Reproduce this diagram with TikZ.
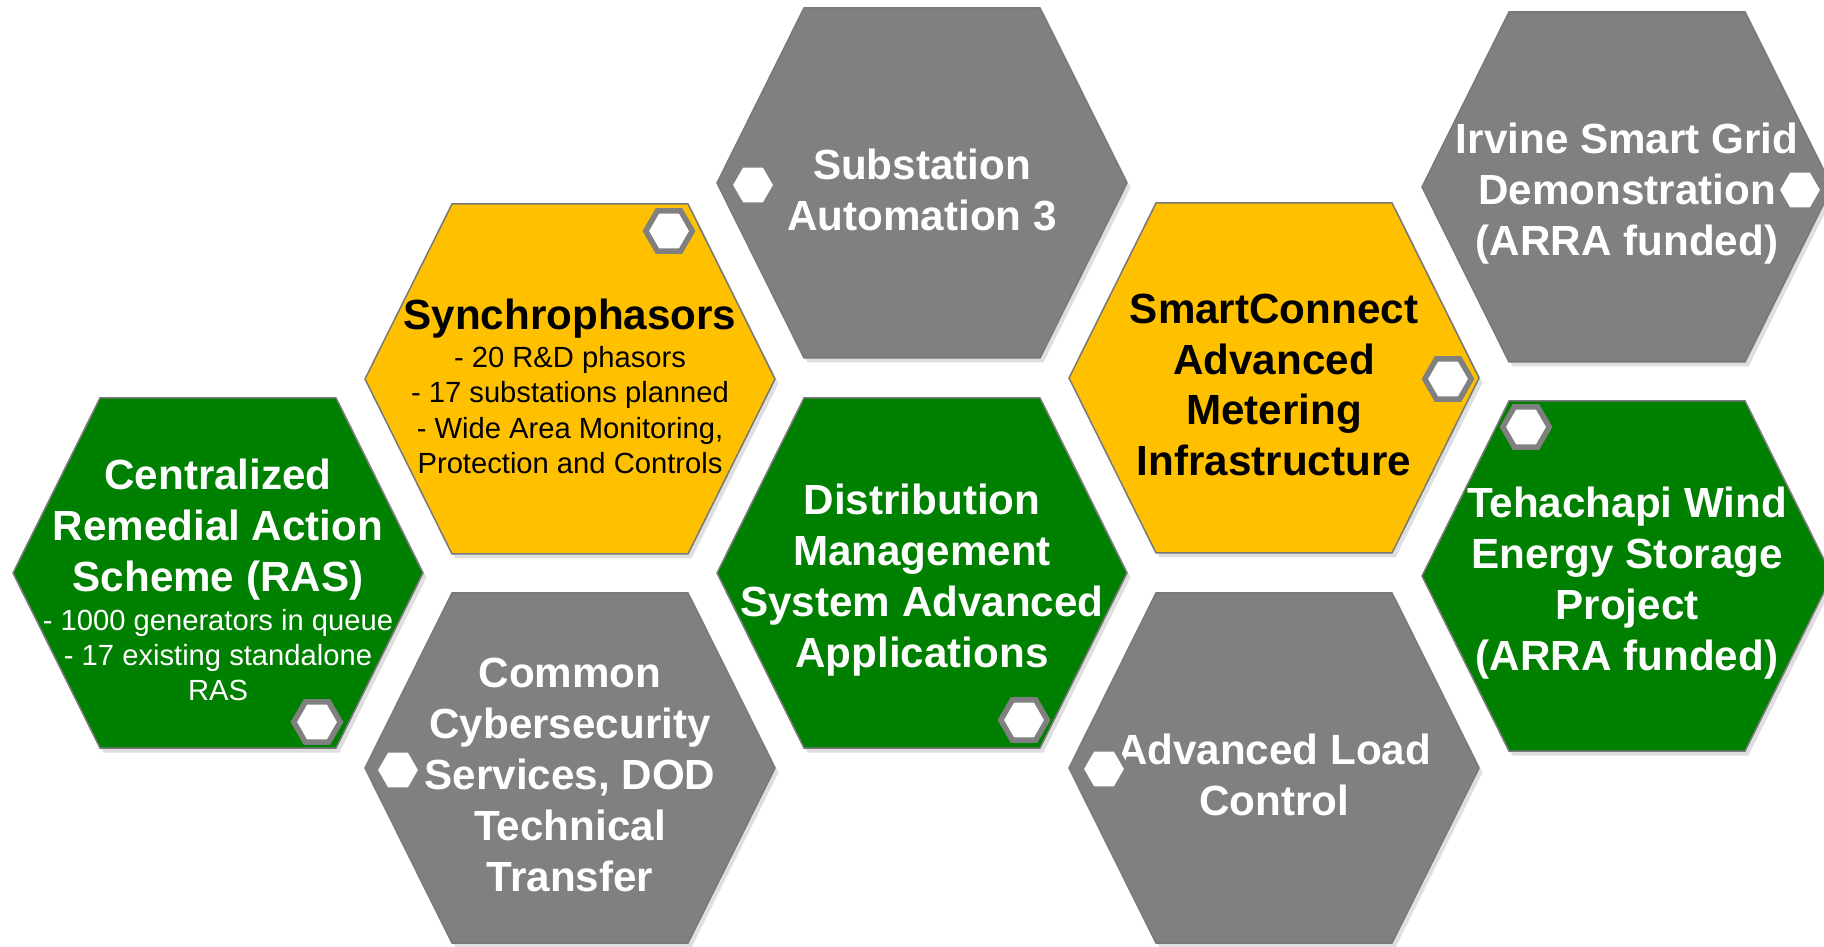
\documentclass[tikz,border=0pt]{standalone}
\usepackage{fontspec}
\setmainfont{Liberation Sans}
\usetikzlibrary{shapes.geometric,shadows,backgrounds}

\definecolor{cellgreen}{RGB}{0,128,0}
\definecolor{cellyellow}{RGB}{255,192,0}
\definecolor{cellgray}{RGB}{128,128,128}
\definecolor{rimgray}{RGB}{120,120,120}

\newcommand{\headfont}{\bfseries\fontsize{12}{14.5}\selectfont}
\newcommand{\notefont}{\mdseries\fontsize{8.3}{10}\selectfont}

\tikzset{
  % text sits a little below the middle of its hexagon
  hexagon path/.style={insert path={++(-205,-7) -- ++(87,-175) -- ++(236,0) -- ++(87,175) -- ++(-87,175) -- ++(-236,0) -- cycle}},
  cell/.style={draw=rimgray, line width=0.15mm,
    drop shadow={shadow xshift=0.35mm, shadow yshift=-0.45mm, opacity=0.25}},
  greencell/.style={cell, fill=cellgreen},
  yellowcell/.style={cell, fill=cellyellow},
  graycell/.style={cell, fill=cellgray},
  lighttext/.style={text=white, align=center, font=\headfont},
  darktext/.style={text=black, align=center, font=\headfont},
  badge/.style={regular polygon, regular polygon sides=6, minimum size=4.65mm,
    inner sep=0pt, fill=white, draw=cellgray, line width=0.55mm}
}

\begin{document}
\begin{tikzpicture}[x=0.1mm, y=-0.1mm]
\useasboundingbox (0,0) rectangle (1824,947);

% cell texts
\node[lighttext] (ras) at (218,580) {Centralized\\Remedial Action\\Scheme (RAS)\\[-3.5pt]
  \notefont - 1000 generators in queue\\[-4.5pt]
  \notefont - 17 existing standalone\\[-4.5pt]
  \notefont RAS};
\node[darktext] (synch) at (570,386) {Synchrophasors\\[-3.5pt]
  \notefont - 20 R\&D phasors\\[-4.5pt]
  \notefont - 17 substations planned\\[-4.5pt]
  \notefont - Wide Area Monitoring,\\[-4.5pt]
  \notefont Protection and Controls};
\node[lighttext] (cyber) at (570,775) {Common\\Cybersecurity\\Services, DOD\\Technical\\Transfer};
\node[lighttext] (subst) at (922,190) {Substation\\Automation 3};
\node[lighttext] (dms) at (922,580) {Distribution\\Management\\System Advanced\\Applications};
\node[darktext] (ami) at (1274,385) {SmartConnect\\Advanced\\Metering\\Infrastructure};
\node[lighttext] (alc) at (1274,775) {Advanced Load\\Control};
\node[lighttext] (irvine) at (1627,194) {Irvine Smart Grid\\Demonstration\\(ARRA funded)};
\node[lighttext] (tehachapi) at (1627,583) {Tehachapi Wind\\Energy Storage\\Project\\(ARRA funded)};

% hexagons behind the texts
\begin{scope}[on background layer]
  \fill[white] (0,0) rectangle (1824,947);
  \draw[greencell] (ras.center) [hexagon path];
  \draw[yellowcell] (synch.center) [hexagon path];
  \draw[graycell] (cyber.center) [hexagon path];
  \draw[graycell] (subst.center) [hexagon path];
  \draw[greencell] (dms.center) [hexagon path];
  \draw[yellowcell] (ami.center) [hexagon path];
  \draw[graycell] (alc.center) [hexagon path];
  \draw[graycell] (irvine.center) [hexagon path];
  \draw[greencell] (tehachapi.center) [hexagon path];
\end{scope}

% small white hexagons
\node[badge] (b-ras) at (317,722) {};
\node[badge] (b-synch) at (669,231) {};
\node[badge] (b-cyber) at (398,770) {};
\node[badge] (b-subst) at (753,185) {};
\node[badge] (b-dms) at (1024,720) {};
\node[badge] (b-ami) at (1448,379) {};
\node[badge] (b-alc) at (1104,769) {};
\node[badge] (b-irvine) at (1800,190) {};
\node[badge] (b-tehachapi) at (1526,427) {};
\end{tikzpicture}
\end{document}
